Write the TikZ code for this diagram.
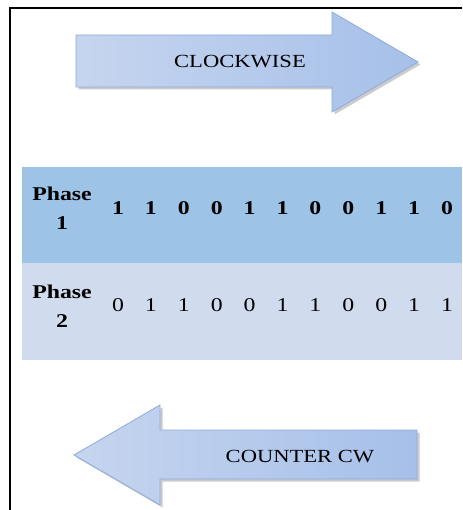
\documentclass[tikz,border=0pt]{standalone}
\usepackage{fontspec}
\newfontfamily\tfont[FakeStretch=1.22]{Liberation Serif}
\definecolor{rowA}{HTML}{9DC3E6}
\definecolor{rowB}{HTML}{D0DCEE}
\definecolor{arrL}{HTML}{C6D5EF}
\definecolor{arrM}{HTML}{DCE5F4}
\definecolor{arrR}{HTML}{A6C0E9}
\definecolor{arrEdge}{HTML}{8EAADB}
\tikzset{
  frameline/.style={line width=2pt, black},
  arrowshape/.style={draw=arrEdge, line width=0.8pt, left color=arrL, middle color=arrM, right color=arrR},
  arrowshadow/.style={fill=black!45, opacity=0.45},
  arrowtext/.style={font=\tfont\fontsize{18.5}{22}\selectfont, inner sep=0pt},
  phaselabel/.style={font=\tfont\bfseries\fontsize{19.5}{29}\selectfont, align=center, inner sep=0pt},
  bitbold/.style={font=\tfont\bfseries\fontsize{19.5}{22}\selectfont, inner sep=0pt},
  bitreg/.style={font=\tfont\fontsize{19.5}{22}\selectfont, inner sep=0pt},
}
\begin{document}
\begin{tikzpicture}[x=1pt,y=-1pt]
\useasboundingbox (0,0) rectangle (462,510);
% frame
\draw[frameline] (9.5,510) -- (9.5,8.5) -- (462,8.5);
% table rows
\fill[rowA] (22,167) rectangle (462,263);
\fill[rowB] (22,263) rectangle (462,360);
\node[phaselabel] (p1) at (62,208) {Phase\\1};
\node[phaselabel] (p2) at (62,306) {Phase\\2};
\foreach \b [count=\i from 0] in {1,1,0,0,1,1,0,0,1,1,0}
  \node[bitbold] (a\i) at (118+32.9*\i,208) {\b};
\foreach \b [count=\i from 0] in {0,1,1,0,0,1,1,0,0,1,1}
  \node[bitreg] (b\i) at (118+32.9*\i,305) {\b};
% top arrow
\fill[arrowshadow, shift={(2.5,2.5)}] (76,35) -- (332,35) -- (332,12) -- (418,62) -- (332,112) -- (332,87) -- (76,87) -- cycle;
\path[arrowshape] (76,35) -- (332,35) -- (332,12) -- (418,62) -- (332,112) -- (332,87) -- (76,87) -- cycle;
\node[arrowtext] (cw) at (240,62) {CLOCKWISE};
% bottom arrow
\fill[arrowshadow, shift={(2.5,2.5)}] (417,430) -- (160,430) -- (160,405) -- (74,455) -- (160,505) -- (160,479) -- (417,479) -- cycle;
\path[arrowshape] (417,430) -- (160,430) -- (160,405) -- (74,455) -- (160,505) -- (160,479) -- (417,479) -- cycle;
\node[arrowtext] (ccw) at (300,457) {COUNTER CW};
\end{tikzpicture}
\end{document}
